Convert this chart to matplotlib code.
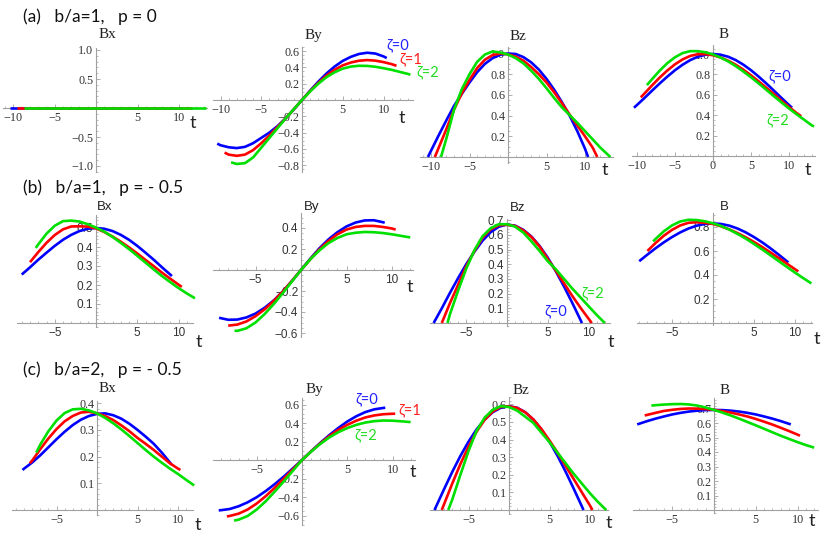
import matplotlib
matplotlib.use('Agg')
import matplotlib.pyplot as plt
from matplotlib.ticker import MultipleLocator

# ---------------- data ----------------
# row (a): b/a=1, p=0
TA0 = [-10.4, -10, -9, -8, -7, -6, -5, -4, -3, -2, -1, 0, 1, 2, 3, 4, 5, 6, 7, 8, 9, 10, 10.4]
TA1 = [-9.5, -9, -8, -7, -6, -5, -4, -3, -2, -1, 0, 1, 2, 3, 4, 5, 6, 7, 8, 9, 10, 11, 11.6]
TA2 = [-8.7, -8, -7, -6, -5, -4, -3, -2, -1, 0, 1, 2, 3, 4, 5, 6, 7, 8, 9, 10, 11, 12, 13, 13.3]
TXA0 = [-10.4, 10.4]
TXA1 = [-9.5, 11.6]
TXA2 = [-8.7, 13.3]
BX_A0 = [0.0, 0.0]
BX_A1 = [0.0, 0.0]
BX_A2 = [0.0, 0.0]
BY_A0 = [-0.535, -0.555, -0.58, -0.59, -0.575, -0.53, -0.465, -0.40, -0.32, -0.225, -0.115, 0.0,
         0.115, 0.225, 0.325, 0.41, 0.48, 0.53, 0.565, 0.58, 0.57, 0.535, 0.515]
BY_A1 = [-0.645, -0.67, -0.685, -0.67, -0.615, -0.53, -0.435, -0.33, -0.225, -0.113, 0.0,
         0.11, 0.21, 0.30, 0.37, 0.425, 0.46, 0.482, 0.49, 0.483, 0.465, 0.44, 0.42]
BY_A2 = [-0.765, -0.785, -0.775, -0.705, -0.585, -0.465, -0.345, -0.225, -0.112, 0.0,
         0.105, 0.20, 0.28, 0.34, 0.385, 0.41, 0.42, 0.418, 0.408, 0.39, 0.37, 0.345, 0.32, 0.31]
BZ_A0 = [0.0, 0.06, 0.21, 0.355, 0.495, 0.61, 0.72, 0.82, 0.90, 0.955, 0.988, 1.0,
         0.995, 0.965, 0.915, 0.845, 0.755, 0.65, 0.53, 0.40, 0.25, 0.08, 0.0]
BZ_A1 = [0.0, 0.09, 0.27, 0.46, 0.615, 0.745, 0.86, 0.94, 0.985, 1.0, 0.992,
         0.97, 0.93, 0.87, 0.80, 0.72, 0.625, 0.52, 0.41, 0.305, 0.20, 0.09, 0.0]
BZ_A2 = [0.0, 0.18, 0.46, 0.655, 0.80, 0.92, 0.99, 1.02, 1.01, 0.99,
         0.955, 0.905, 0.835, 0.755, 0.665, 0.57, 0.48, 0.405, 0.33, 0.25, 0.17, 0.09, 0.02, 0.0]
B_A0 = [0.473, 0.50, 0.57, 0.642, 0.712, 0.779, 0.841, 0.895, 0.94, 0.973, 0.993, 1.0,
        0.993, 0.973, 0.94, 0.895, 0.841, 0.779, 0.712, 0.642, 0.57, 0.50, 0.473]
B_A1 = [0.575, 0.614, 0.694, 0.77, 0.839, 0.899, 0.947, 0.981, 0.998, 0.999, 0.988,
        0.966, 0.934, 0.894, 0.846, 0.791, 0.732, 0.67, 0.607, 0.543, 0.481, 0.421, 0.39]
B_A2 = [0.695, 0.755, 0.838, 0.911, 0.968, 1.009, 1.028, 1.028, 1.017, 0.996,
        0.965, 0.927, 0.881, 0.828, 0.772, 0.712, 0.65, 0.587, 0.526, 0.466, 0.409, 0.355, 0.30, 0.29]

# row (b): b/a=1, p=-0.5
TB0 = [-9, -8, -7, -6, -5, -4, -3, -2, -1, 0, 1, 2, 3, 4, 5, 6, 7, 8, 9, 9.2]
TB1 = [-8, -7, -6, -5, -4, -3, -2, -1, 0, 1, 2, 3, 4, 5, 6, 7, 8, 9, 10, 10.4]
TB2 = [-7.3, -7, -6, -5, -4, -3, -2, -1, 0, 1, 2, 3, 4, 5, 6, 7, 8, 9, 10, 11, 12]
BX_B0 = [0.255, 0.293, 0.333, 0.37, 0.406, 0.438, 0.464, 0.484, 0.496, 0.50,
         0.496, 0.484, 0.464, 0.438, 0.406, 0.37, 0.333, 0.293, 0.255, 0.247]
BX_B1 = [0.32, 0.373, 0.422, 0.463, 0.493, 0.508, 0.509, 0.507, 0.498,
         0.479, 0.455, 0.428, 0.398, 0.366, 0.332, 0.299, 0.265, 0.233, 0.202, 0.19]
BX_B2 = [0.395, 0.414, 0.47, 0.512, 0.536, 0.539, 0.534, 0.52, 0.502,
         0.481, 0.453, 0.422, 0.389, 0.354, 0.318, 0.282, 0.247, 0.215, 0.184, 0.156, 0.13]
BY_B0 = [-0.455, -0.474, -0.472, -0.452, -0.415, -0.36, -0.29, -0.205, -0.105, 0.0,
         0.105, 0.205, 0.29, 0.36, 0.415, 0.452, 0.472, 0.474, 0.455, 0.45]
BY_B1 = [-0.53, -0.52, -0.49, -0.44, -0.375, -0.295, -0.205, -0.105, 0.0,
         0.10, 0.195, 0.275, 0.34, 0.385, 0.41, 0.42, 0.42, 0.41, 0.395, 0.385]
BY_B2 = [-0.578, -0.58, -0.555, -0.50, -0.42, -0.325, -0.22, -0.11, 0.0,
         0.10, 0.185, 0.255, 0.305, 0.34, 0.355, 0.362, 0.36, 0.352, 0.34, 0.325, 0.31]
BZ_B0 = [0.0, 0.10, 0.205, 0.305, 0.40, 0.485, 0.56, 0.618, 0.655, 0.67,
         0.662, 0.634, 0.588, 0.524, 0.444, 0.351, 0.248, 0.138, 0.023, 0.0]
BZ_B1 = [0.0, 0.135, 0.26, 0.385, 0.49, 0.58, 0.638, 0.665, 0.668,
         0.66, 0.63, 0.585, 0.52, 0.435, 0.355, 0.27, 0.185, 0.105, 0.03, 0.0]
BZ_B2 = [0.0, 0.06, 0.22, 0.37, 0.495, 0.59, 0.645, 0.672, 0.672,
         0.655, 0.615, 0.555, 0.49, 0.42, 0.365, 0.30, 0.235, 0.175, 0.115, 0.055, 0.0]
B_B0 = [0.515, 0.57, 0.623, 0.672, 0.716, 0.755, 0.787, 0.811, 0.825, 0.83,
        0.825, 0.811, 0.787, 0.755, 0.716, 0.672, 0.623, 0.57, 0.515, 0.505]
B_B1 = [0.60, 0.667, 0.727, 0.776, 0.813, 0.835, 0.84, 0.835, 0.825,
        0.805, 0.78, 0.749, 0.714, 0.675, 0.633, 0.588, 0.542, 0.495, 0.448, 0.43]
B_B2 = [0.68, 0.701, 0.764, 0.813, 0.846, 0.86, 0.858, 0.848, 0.831,
        0.808, 0.778, 0.742, 0.703, 0.659, 0.613, 0.565, 0.516, 0.468, 0.42, 0.374, 0.33]

# row (c): b/a=2, p=-0.5
TC0 = [-9.2, -9, -8, -7, -6, -5, -4, -3, -2, -1, 0, 1, 2, 3, 4, 5, 6, 7, 8, 9, 9.2]
TC1 = [-8.3, -8, -7, -6, -5, -4, -3, -2, -1, 0, 1, 2, 3, 4, 5, 6, 7, 8, 9, 10, 10.3]
TC2 = [-7.5, -7, -6, -5, -4, -3, -2, -1, 0, 1, 2, 3, 4, 5, 6, 7, 8, 9, 10, 11, 12]
BX_C0 = [0.15, 0.155, 0.178, 0.205, 0.235, 0.265, 0.293, 0.318, 0.338, 0.352, 0.36,
         0.362, 0.355, 0.342, 0.323, 0.30, 0.275, 0.248, 0.215, 0.178, 0.17]
BX_C1 = [0.175, 0.185, 0.228, 0.268, 0.303, 0.332, 0.352, 0.365, 0.368, 0.362,
         0.352, 0.337, 0.317, 0.295, 0.27, 0.248, 0.225, 0.20, 0.175, 0.155, 0.15]
BX_C2 = [0.215, 0.245, 0.295, 0.335, 0.363, 0.377, 0.379, 0.373, 0.362,
         0.345, 0.325, 0.302, 0.277, 0.251, 0.225, 0.20, 0.177, 0.155, 0.135, 0.113, 0.092]
BY_C0 = [-0.545, -0.543, -0.53, -0.50, -0.457, -0.402, -0.335, -0.26, -0.178, -0.09, 0.0,
         0.093, 0.183, 0.268, 0.345, 0.416, 0.473, 0.518, 0.548, 0.563, 0.565]
BY_C1 = [-0.61, -0.605, -0.58, -0.535, -0.47, -0.39, -0.30, -0.20, -0.10, 0.0,
         0.092, 0.178, 0.257, 0.325, 0.38, 0.425, 0.46, 0.482, 0.495, 0.50, 0.50]
BY_C2 = [-0.655, -0.645, -0.605, -0.535, -0.445, -0.34, -0.23, -0.115, 0.0,
         0.09, 0.172, 0.243, 0.30, 0.345, 0.38, 0.405, 0.42, 0.427, 0.425, 0.418, 0.41]
BZ_C0 = [0.0, 0.02, 0.12, 0.217, 0.307, 0.388, 0.458, 0.514, 0.556, 0.581, 0.59,
         0.581, 0.556, 0.514, 0.458, 0.388, 0.307, 0.217, 0.12, 0.02, 0.0]
BZ_C1 = [0.0, 0.035, 0.151, 0.261, 0.36, 0.445, 0.513, 0.56, 0.586, 0.589,
         0.58, 0.555, 0.515, 0.46, 0.395, 0.325, 0.25, 0.175, 0.10, 0.025, 0.0]
BZ_C2 = [0.0, 0.06, 0.20, 0.335, 0.45, 0.525, 0.57, 0.59, 0.585,
         0.565, 0.53, 0.495, 0.44, 0.385, 0.325, 0.265, 0.205, 0.15, 0.095, 0.045, 0.0]
B_C0 = [0.59, 0.594, 0.613, 0.63, 0.645, 0.659, 0.67, 0.679, 0.685, 0.689, 0.69,
        0.689, 0.685, 0.679, 0.67, 0.659, 0.645, 0.63, 0.613, 0.594, 0.59]
B_C1 = [0.652, 0.656, 0.67, 0.683, 0.691, 0.697, 0.70, 0.699, 0.696, 0.691,
        0.682, 0.672, 0.659, 0.645, 0.628, 0.609, 0.589, 0.567, 0.544, 0.52, 0.512]
B_C2 = [0.72, 0.723, 0.727, 0.73, 0.731, 0.728, 0.72, 0.707, 0.69,
        0.672, 0.652, 0.63, 0.607, 0.584, 0.56, 0.536, 0.512, 0.49, 0.468, 0.448, 0.43]

ROW_TITLES = ["(a)   b/a=1,   p = 0", "(b)   b/a=1,   p = - 0.5", "(c)   b/a=2,   p = - 0.5"]
PANEL_NAMES = ["Bx", "By", "Bz", "B"]
ZETA_LABELS = ["ζ=0", "ζ=1", "ζ=2"]

# ---------------- styling / layout ----------------
W, H = 830, 539
COLORS = ['#0000ff', '#ff0000', '#00e000']
TXT_COLORS = ['#2222ff', '#ff2020', '#22dd22']
AXC = '#a0a0a0'
SERIF = 'Liberation Serif'
SANS = 'Liberation Sans'
HUM = ['Lato', 'Open Sans', 'DejaVu Sans']

fig = plt.figure(figsize=(W / 100, H / 100), dpi=100)


def fx(x):
    return x / W


def fy(y):
    return 1 - y / H


def fmt(v):
    s = f"{abs(v):.1f}"
    return ("\u2212" + s) if v < 0 else s


def panel(x0, y0, sx, sy, xlim, ylim, series, xt, yt, ymin, font, tsize):
    left = x0 + xlim[0] * sx
    right = x0 + xlim[1] * sx
    top = y0 - ylim[1] * sy
    bot = y0 - ylim[0] * sy
    ax = fig.add_axes([fx(left), fy(bot), (right - left) / W, (bot - top) / H])
    ax.set_xlim(xlim)
    ax.set_ylim(ylim)
    ax.patch.set_alpha(0)
    for sp in ['top', 'right']:
        ax.spines[sp].set_visible(False)
    for sp in ['left', 'bottom']:
        ax.spines[sp].set_position(('data', 0))
        ax.spines[sp].set_color(AXC)
        ax.spines[sp].set_linewidth(0.8)
    ax.set_xticks(xt)
    ax.set_xticklabels([("\u2212" + str(abs(v))) if v < 0 else str(v) for v in xt],
                       fontfamily=font, fontsize=tsize, color='#333333')
    ax.set_yticks(yt)
    ax.set_yticklabels([fmt(v) for v in yt], fontfamily=font, fontsize=tsize, color='#333333')
    ax.xaxis.set_minor_locator(MultipleLocator(1))
    ax.yaxis.set_minor_locator(MultipleLocator(ymin))
    ax.tick_params(which='major', direction='in', length=3.0, width=0.6, color=AXC, pad=2)
    ax.tick_params(which='minor', direction='in', length=1.6, width=0.5, color=AXC)
    ax.tick_params(axis='x', which='major', pad=3)
    for (t, v), c in zip(series, COLORS):
        ax.plot(t, v, color=c, lw=1.9, solid_capstyle='butt', zorder=3, clip_on=False)
    return ax


SZ_SERIF = 8.7
SZ_SANS = 8.5

# row a
panel(96, 108, 8.3, 58, (-11.2, 13.4), (-1.1, 1.03),
      [(TXA0, BX_A0), (TXA1, BX_A1), (TXA2, BX_A2)],
      [-10, -5, 5, 10], [-1.0, -0.5, 0.5, 1.0], 0.1, SERIF, SZ_SERIF)
panel(302, 100, 8.15, 81.5, (-10.9, 13.6), (-0.88, 0.65),
      [(TA0, BY_A0), (TA1, BY_A1), (TA2, BY_A2)],
      [-10, -5, 5, 10], [-0.8, -0.6, -0.4, -0.2, 0.2, 0.4, 0.6], 0.05, SERIF, SZ_SERIF)
panel(508, 157, 7.7, 103.5, (-11.4, 13.6), (-0.06, 1.06),
      [(TA0, BZ_A0), (TA1, BZ_A1), (TA2, BZ_A2)],
      [-10, -5, 5, 10], [0.2, 0.4, 0.6, 0.8, 1.0], 0.05, SERIF, SZ_SERIF)
panel(713, 156, 7.6, 102, (-10.7, 13.4), (-0.06, 1.09),
      [(TA0, B_A0), (TA1, B_A1), (TA2, B_A2)],
      [-10, -5, 0, 5, 10], [0.2, 0.4, 0.6, 0.8, 1.0], 0.05, SERIF, SZ_SERIF)

# row b
panel(96, 323, 8.25, 190, (-9.6, 11.8), (-0.02, 0.57),
      [(TB0, BX_B0), (TB1, BX_B1), (TB2, BX_B2)],
      [-5, 5, 10], [0.1, 0.2, 0.3, 0.4, 0.5], 0.02, SANS, SZ_SANS)
panel(301, 270, 9.1, 105, (-9.7, 12.3), (-0.64, 0.54),
      [(TB0, BY_B0), (TB1, BY_B1), (TB2, BY_B2)],
      [-5, 5, 10], [-0.6, -0.4, -0.2, 0.2, 0.4], 0.05, SANS, SZ_SANS)
panel(507, 323, 8.15, 147, (-9.45, 12.6), (-0.02, 0.71),
      [(TB0, BZ_B0), (TB1, BZ_B1), (TB2, BZ_B2)],
      [-5, 5, 10], [0.1, 0.2, 0.3, 0.4, 0.5, 0.6, 0.7], 0.02, SANS, SZ_SANS)
panel(713, 323, 8.2, 120, (-9.3, 12.1), (-0.02, 0.92),
      [(TB0, B_B0), (TB1, B_B1), (TB2, B_B2)],
      [-5, 5, 10], [0.2, 0.4, 0.6, 0.8], 0.05, SANS, SZ_SANS)

# row c
panel(97, 510, 8.1, 267, (-10.5, 11.85), (-0.02, 0.41),
      [(TC0, BX_C0), (TC1, BX_C1), (TC2, BX_C2)],
      [-5, 5, 10], [0.1, 0.2, 0.3, 0.4], 0.02, SERIF, SZ_SERIF)
panel(302, 460, 9.05, 92.5, (-9.8, 12.5), (-0.70, 0.67),
      [(TC0, BY_C0), (TC1, BY_C1), (TC2, BY_C2)],
      [-5, 5, 10], [-0.6, -0.4, -0.2, 0.2, 0.4, 0.6], 0.05, SERIF, SZ_SERIF)
panel(509, 510, 8.1, 176, (-9.75, 12.2), (-0.02, 0.64),
      [(TC0, BZ_C0), (TC1, BZ_C1), (TC2, BZ_C2)],
      [-5, 5, 10], [0.1, 0.2, 0.3, 0.4, 0.5, 0.6], 0.02, SERIF, SZ_SERIF)
panel(714, 510, 8.35, 145, (-9.7, 12.45), (-0.02, 0.77),
      [(TC0, B_C0), (TC1, B_C1), (TC2, B_C2)],
      [-5, 5, 10], [0.1, 0.2, 0.3, 0.4, 0.5, 0.6, 0.7], 0.02, SERIF, SZ_SERIF)

# row titles
for title, y in zip(ROW_TITLES, [17, 188, 370]):
    fig.text(fx(23), fy(y), title, fontfamily=HUM, fontsize=12.5, color='#111111',
             ha='left', va='center')

# panel titles
title_pos = [[(107, 35), (313, 35), (518, 37), (724, 35)],
             [(105, 207), (312, 207), (518, 208), (724, 207)],
             [(107, 388), (314, 390), (521, 390), (725, 390)]]
t_pos = [[(193, 123), (402, 118), (605, 170), (808, 170)],
         [(199, 342), (410, 287), (611, 342), (817, 339)],
         [(198, 525), (413, 472), (609, 523), (812, 521)]]
for r in range(3):
    font = SANS if r == 1 else SERIF
    size = 9.5 if r == 1 else 11
    for c in range(4):
        x, y = title_pos[r][c]
        fig.text(fx(x), fy(y), PANEL_NAMES[c], fontfamily=font, fontsize=size,
                 color='#222222', ha='center', va='center')
        x, y = t_pos[r][c]
        fig.text(fx(x), fy(y), 't', fontfamily=HUM, fontsize=13, color='#222222',
                 ha='center', va='center')

# zeta labels
zeta_pos = [(398, 45, 0), (411, 59, 1), (428, 72, 2),
            (780, 76, 0), (778, 120, 2),
            (593, 293, 2), (556, 311, 0),
            (367, 399, 0), (410, 410, 1), (366, 435, 2)]
for x, y, k in zeta_pos:
    fig.text(fx(x), fy(y), ZETA_LABELS[k], fontfamily=HUM, fontsize=10.5,
             color=TXT_COLORS[k], ha='center', va='center')

fig.savefig('out.png', dpi=100)
